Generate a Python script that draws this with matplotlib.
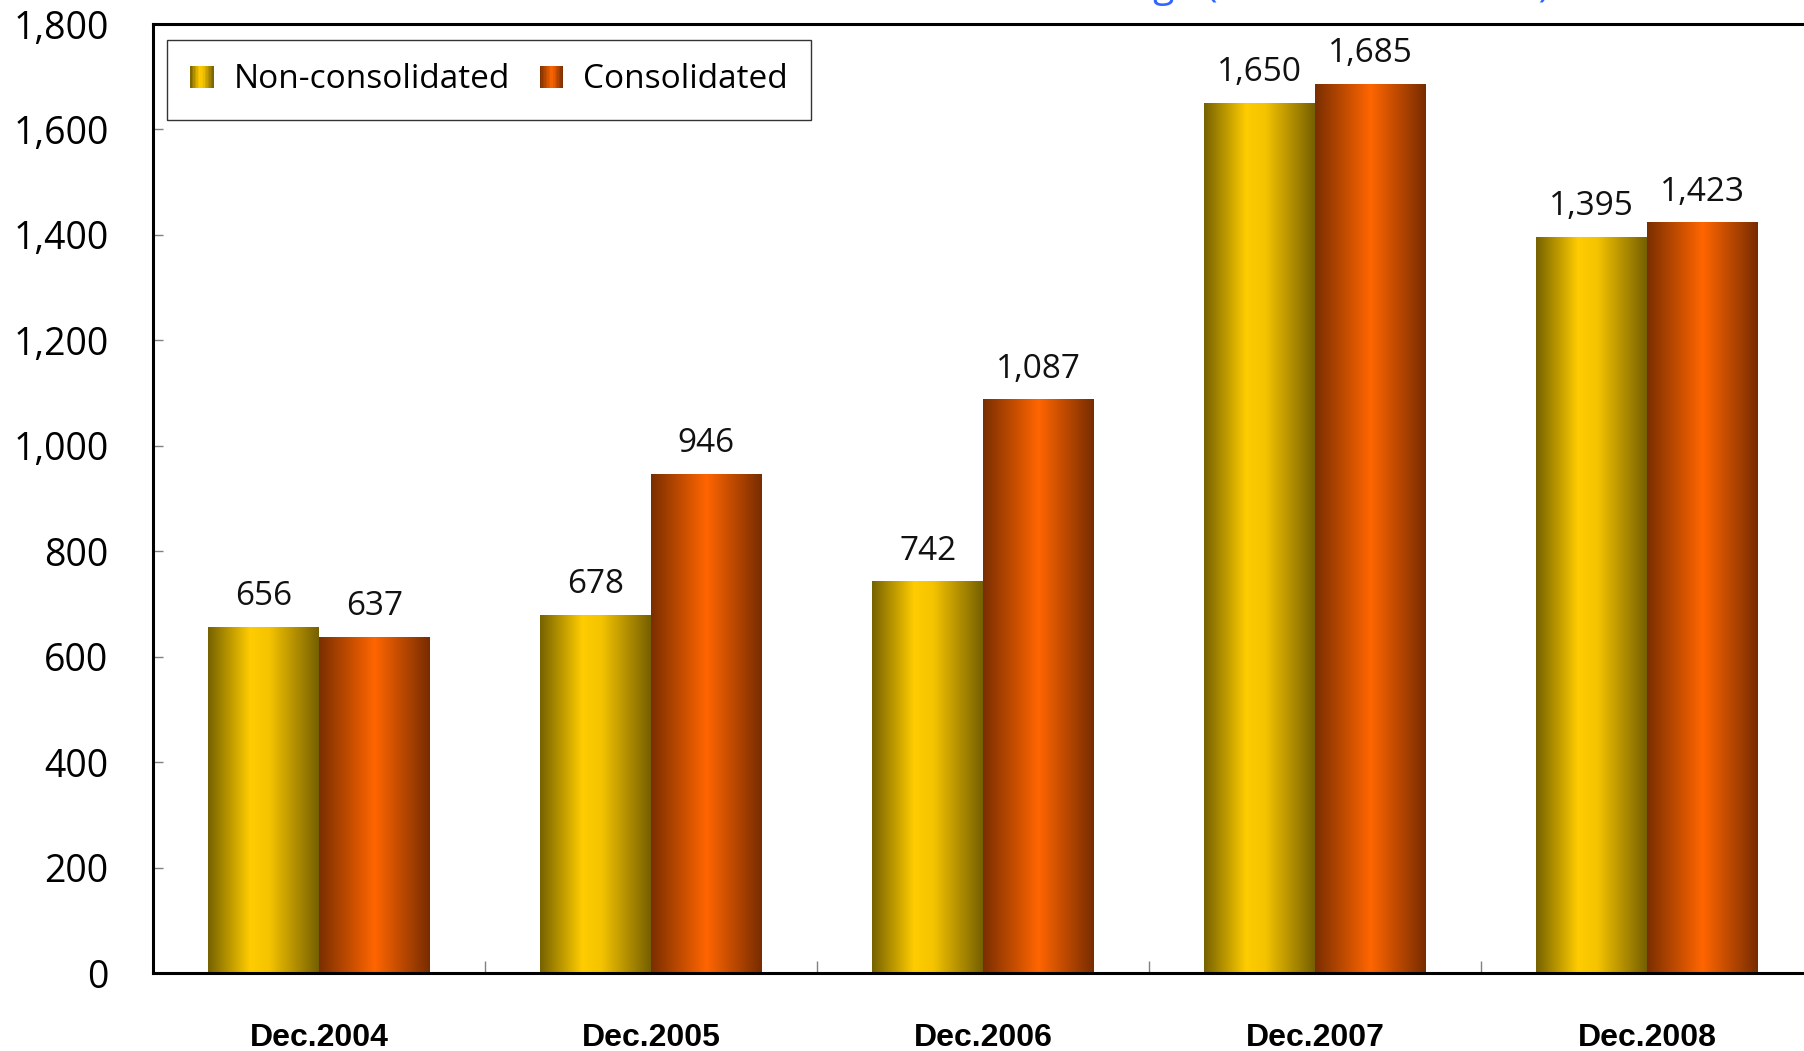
import numpy as np
import matplotlib.pyplot as plt
from matplotlib.colors import LinearSegmentedColormap
from matplotlib.patches import Rectangle, Patch
from matplotlib.legend_handler import HandlerBase

categories = ['Dec.2004', 'Dec.2005', 'Dec.2006', 'Dec.2007', 'Dec.2008']
non_consolidated = [656, 678, 742, 1650, 1395]
consolidated = [637, 946, 1087, 1685, 1423]
series_names = ['Non-consolidated', 'Consolidated']
y_ticks = [0, 200, 400, 600, 800, 1000, 1200, 1400, 1600, 1800]
title = 'Average (Non-consolidated)'

yellow_cmap = LinearSegmentedColormap.from_list(
    'yel', [(0, '#766200'), (0.38, '#FFCC00'), (0.55, '#F5C400'), (1, '#766000')])
orange_cmap = LinearSegmentedColormap.from_list(
    'ora', [(0, '#7A2E00'), (0.5, '#FF6600'), (1, '#782C00')])
grad = np.linspace(0, 1, 256).reshape(1, -1)


class GradientHandler(HandlerBase):
    def __init__(self, cmap, n=16):
        super().__init__()
        self.cmap = cmap
        self.n = n

    def create_artists(self, legend, orig_handle, xdescent, ydescent,
                       width, height, fontsize, trans):
        step = width / self.n
        rects = []
        for k in range(self.n):
            c = self.cmap((k + 0.5) / self.n)
            rects.append(Rectangle((-xdescent + k * step, -ydescent), step * 1.05, height,
                                   facecolor=c, edgecolor='none', transform=trans))
        return rects


fig = plt.figure(figsize=(18.04, 10.51), dpi=100)
ax = fig.add_axes([153 / 1804, 78 / 1051, 1660 / 1804, 949 / 1051])

x = np.arange(len(categories))
w = 1 / 3
for vals, offset, cmap in [(non_consolidated, -w / 2, yellow_cmap),
                           (consolidated, w / 2, orange_cmap)]:
    bars = ax.bar(x + offset, vals, w, color='none', edgecolor='none')
    for b, v in zip(bars, vals):
        x0 = b.get_x()
        ax.imshow(grad, cmap=cmap, aspect='auto', zorder=2,
                  extent=(x0, x0 + b.get_width(), 0, b.get_height()))
        ax.annotate(f'{v:,}', (x0 + b.get_width() / 2, v), xytext=(0, 16),
                    textcoords='offset points', ha='center', va='baseline',
                    fontsize=24, fontfamily='Open Sans', color='#111111')

ax.set_xlim(-0.5, len(categories) - 0.5)
ax.set_ylim(0, 1800)

ax.set_yticks(y_ticks)
ax.set_yticklabels([f'{t:,}' for t in y_ticks], fontfamily='Open Sans', fontsize=27)
ax.tick_params(axis='y', direction='in', length=7, width=1, color='#808080', pad=32)

ax.set_xticks(x)
ax.set_xticklabels(categories, fontfamily='Liberation Sans', fontweight='bold', fontsize=23)
ax.tick_params(axis='x', which='major', length=0, pad=36)
ax.set_xticks(x[:-1] + 0.5, minor=True)
ax.tick_params(axis='x', which='minor', direction='in', length=9, width=1, color='#808080')

for s in ['left', 'top', 'bottom']:
    ax.spines[s].set_color('black')
    ax.spines[s].set_linewidth(2.2)
ax.spines['right'].set_visible(False)

handles = [Patch(label=series_names[0]), Patch(label=series_names[1])]
ax.legend(handles=handles, ncol=2, loc='upper left', bbox_to_anchor=(0.0084, 0.983),
          borderaxespad=0, fancybox=False, edgecolor='#333333', framealpha=1,
          prop={'family': 'Open Sans', 'size': 24},
          handlelength=0.7, handleheight=0.66, handletextpad=0.6,
          columnspacing=0.9, borderpad=0.7,
          handler_map={handles[0]: GradientHandler(yellow_cmap),
                       handles[1]: GradientHandler(orange_cmap)})
ax.get_legend().get_frame().set_linewidth(1.0)

fig.text(1550 / 1804, 1.0 + 3 / 1051, title, ha='right', va='baseline', fontsize=28,
         fontfamily='Open Sans', color='#3366FF')

fig.savefig('out.png', dpi=100)
